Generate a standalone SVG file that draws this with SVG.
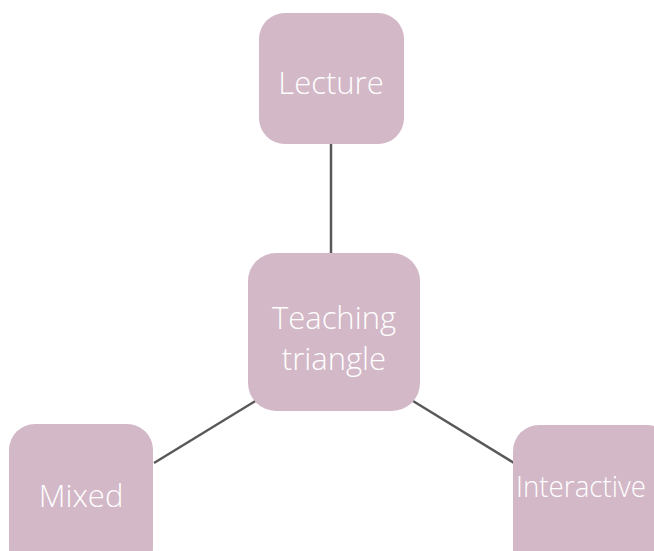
<svg xmlns="http://www.w3.org/2000/svg" width="654" height="551" viewBox="0 0 654 551">
<style>
.box{fill:#d3b8c7;}
.lbl{fill:#ffffff;font-family:"Open Sans","Liberation Sans",sans-serif;font-weight:300;font-size:31px;text-anchor:middle;}
.edge{stroke:#595959;stroke-width:2.5;fill:none;}
</style>
<rect width="654" height="551" fill="#ffffff"/>
<g id="connectors">
<line class="edge" x1="331" y1="144" x2="331" y2="253"/>
<line class="edge" x1="154" y1="463" x2="257" y2="400"/>
<line class="edge" x1="413" y1="401" x2="514" y2="463"/>
</g>
<g id="lecture">
<rect class="box" x="259" y="13" width="145" height="131" rx="26"/>
<text class="lbl" x="331" y="94">Lecture</text>
</g>
<g id="teaching">
<rect class="box" x="248" y="253" width="172" height="158" rx="28"/>
<text class="lbl" x="334" y="329">Teaching</text>
<text class="lbl" x="334" y="370">triangle</text>
</g>
<g id="mixed">
<rect class="box" x="9" y="424" width="144" height="150" rx="26"/>
<text class="lbl" x="81" y="507">Mixed</text>
</g>
<g id="interactive">
<rect class="box" x="513" y="425" width="160" height="150" rx="26"/>
<text class="lbl" x="516" y="497" style="text-anchor:start;font-size:30px" textLength="130" lengthAdjust="spacingAndGlyphs">Interactive</text>
</g>
</svg>
